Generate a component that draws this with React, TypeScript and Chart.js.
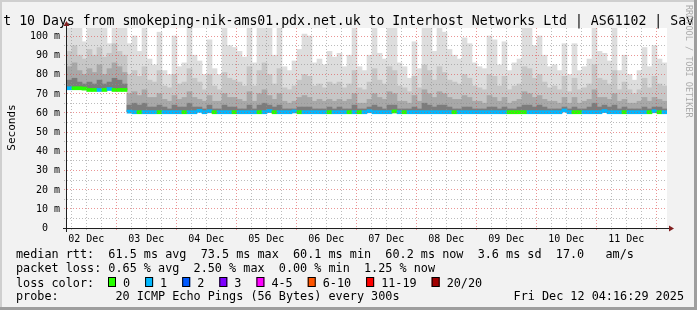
import React, { useEffect, useRef } from 'react';
import { Chart, registerables } from 'chart.js';

Chart.register(...registerables);

const TITLE = 'Last 10 Days from smokeping-nik-ams01.pdx.net.uk to Interhost Networks Ltd | AS61102 | Sav';
const Y_AXIS_TITLE = 'Seconds';
const WATERMARK = 'RRDTOOL / TOBI OETIKER';

const dayLabels = ['02 Dec', '03 Dec', '04 Dec', '05 Dec', '06 Dec', '07 Dec', '08 Dec', '09 Dec', '10 Dec', '11 Dec'];
const yTicks = [0, 10, 20, 30, 40, 50, 60, 70, 80, 90, 100];
const yTickLabels = ['0  ', '10 m', '20 m', '30 m', '40 m', '50 m', '60 m', '70 m', '80 m', '90 m', '100 m'];

const startHourOfDay = 4 + 16 / 60 + 29 / 3600; // graph starts Dec 2 04:16:29
const spanHours = 240;
const columnHours = 2;
const yMax = 104.17;

const legendRtt = 'median rtt:  61.5 ms avg  73.5 ms max  60.1 ms min  60.2 ms now  3.6 ms sd  17.0   am/s';
const legendLoss = 'packet loss: 0.65 % avg  2.50 % max  0.00 % min  1.25 % now';
const legendLossColorTitle = 'loss color:';
const lossLegendLabels = ['0', '1', '2', '3', '4-5', '6-10', '11-19', '20/20'];
const lossColors = ['#26ff00', '#00b8ff', '#0059ff', '#7e00ff', '#ff00ff', '#ff5500', '#ff0000', '#a10000'];
const probeText = 'probe:        20 ICMP Echo Pings (56 Bytes) every 300s';
const dateText = 'Fri Dec 12 04:16:29 2025';

// median RTT per 2-hour column (ms)
const medianRtt = [
  72.8, 72.8, 72.8, 72.6, 71.9, 71.9, 71.9, 71.9, 72.4, 71.9, 71.9, 71.9,
  60.6, 60.3, 60.3, 60.3, 60.3, 60.3, 60.3, 60.3, 60.3, 60.3, 60.3, 60.3, 60.3, 60.3, 61.0, 60.3, 60.8, 60.3,
  60.3, 60.3, 60.3, 60.3, 60.3, 60.3, 60.3, 60.3, 60.3, 60.3, 60.9, 60.3, 60.3, 60.3, 60.3, 60.7, 60.3, 60.3, 60.3, 60.3,
  60.3, 60.3, 60.3, 60.3, 60.3, 60.3, 60.3, 60.3, 60.3, 60.3,
  60.8, 60.3, 60.3, 60.3, 60.3, 60.7, 60.3, 60.3, 60.3, 60.3, 60.3, 60.3, 60.3, 60.3, 60.3, 60.3, 60.3, 60.3, 60.3, 60.3,
  60.3, 60.3, 60.3, 60.3, 60.3, 60.3, 60.3, 60.3, 60.3, 60.3,
  60.3, 60.3, 60.3, 60.3, 60.3, 60.3, 60.3, 60.3, 60.3, 61.2, 60.3, 60.3, 60.3, 60.3, 60.3, 60.3, 60.3, 60.9, 60.3, 60.3,
  60.3, 60.3, 60.3, 60.3, 60.3, 60.3, 60.3, 60.8, 60.3, 60.3,
];

// lost pings per column (index into lossColors)
const lossCount = [
  1, 0, 0, 0, 0, 0, 1, 0, 1, 0, 0, 0,
  1, 1, 0, 1, 1, 1, 0, 1, 1, 1, 1, 0, 1, 1, 1, 1, 1, 0,
  1, 1, 1, 0, 1, 1, 1, 1, 0, 1, 1, 0, 1, 1, 1, 1, 0, 1, 1, 1, 1, 1, 0, 1, 1, 1, 0, 1, 0, 1,
  1, 1, 1, 1, 1, 0, 1, 0, 1, 1, 1, 1, 1, 1, 1, 1, 1, 0, 1, 1, 1, 1, 1, 1, 1, 1, 1, 1, 0, 0,
  0, 0, 1, 1, 1, 1, 1, 1, 1, 1, 1, 0, 0, 1, 1, 1, 1, 1, 1, 1, 1, 0, 1, 1, 1, 1, 0, 1, 0, 1,
];

// smoke: highest ping per column (lightest band)
const smokeMax = [
  104, 104, 104, 97, 104, 104, 104, 104, 96, 104, 104, 104,
  96, 100, 92, 104, 88, 85, 102, 82, 80, 100, 84, 86, 104, 90, 87, 80, 98, 83,
  80, 104, 95, 94, 92, 89, 104, 86, 104, 104, 104, 90, 104, 84, 82, 87, 93, 101, 100, 86,
  88, 85, 92, 89, 91, 84, 90, 104, 84, 82,
  90, 104, 91, 88, 104, 104, 86, 84, 78, 97, 83, 104, 104, 92, 104, 102, 93, 90, 88, 99,
  96, 86, 84, 83, 100, 98, 85, 97, 82, 86,
  88, 104, 104, 95, 100, 90, 84, 85, 82, 96, 80, 96, 82, 84, 88, 104, 92, 91, 87, 104,
  82, 90, 80, 77, 82, 94, 84, 95, 88, 86,
];
// smoke: upper-middle band
const smokeUpper = [
  92, 95, 90, 88, 93, 90, 94, 89, 91, 96, 92, 90,
  80, 82, 79, 84, 77, 76, 82, 74, 73, 80, 75, 76, 83, 78, 76, 72, 80, 74,
  72, 81, 78, 77, 76, 74, 84, 74, 82, 86, 80, 75, 83, 73, 72, 74, 77, 80, 79, 74,
  75, 73, 76, 75, 76, 73, 75, 82, 73, 72,
  76, 83, 77, 75, 84, 82, 74, 73, 71, 79, 73, 85, 82, 77, 84, 81, 77, 76, 75, 80,
  78, 74, 73, 72, 80, 79, 74, 79, 72, 74,
  75, 84, 83, 78, 80, 76, 73, 74, 72, 79, 71, 78, 72, 73, 75, 85, 78, 77, 75, 82,
  72, 76, 72, 70, 72, 78, 73, 79, 75, 74,
];
// smoke: middle band
const smokeMid = [
  84, 86, 82, 80, 83, 81, 85, 80, 83, 86, 84, 81,
  70, 71, 69, 72, 68, 68, 70, 67, 66, 69, 67, 68, 71, 68, 67, 66, 69, 66,
  66, 70, 68, 68, 67, 66, 71, 66, 70, 72, 69, 67, 70, 66, 65, 66, 68, 69, 68, 66,
  67, 66, 67, 66, 67, 66, 67, 70, 65, 65,
  67, 70, 68, 67, 71, 70, 66, 66, 65, 69, 66, 72, 70, 68, 71, 70, 68, 67, 67, 69,
  68, 66, 66, 65, 69, 68, 66, 68, 65, 66,
  67, 71, 70, 68, 69, 67, 66, 66, 65, 68, 65, 68, 65, 66, 67, 72, 68, 68, 67, 70,
  66, 67, 65, 65, 66, 68, 66, 68, 67, 66,
];
// smoke: dense band near the median
const smokeLow = [
  77, 78, 76, 75, 76, 75, 77, 75, 76, 78, 77, 75,
  64, 65, 64, 65, 63, 63, 64, 63, 62, 64, 63, 63, 65, 63, 63, 62, 64, 62,
  62, 64, 63, 63, 62, 62, 64, 62, 64, 65, 64, 63, 64, 62, 62, 62, 63, 63, 63, 62,
  62, 62, 63, 62, 63, 62, 62, 64, 62, 62,
  63, 64, 63, 62, 64, 64, 62, 62, 62, 63, 62, 65, 64, 63, 64, 64, 63, 62, 62, 63,
  63, 62, 62, 62, 63, 63, 62, 63, 62, 62,
  63, 64, 64, 63, 64, 63, 62, 62, 62, 63, 62, 63, 62, 62, 63, 65, 63, 64, 63, 64,
  62, 63, 62, 62, 62, 63, 62, 63, 63, 62,
];

const MONO = "'DejaVu Sans Mono', monospace";

const rrdPlugin = {
  id: 'rrdlook',
  beforeDraw(chart: any) {
    const { ctx, chartArea: a, width, height } = chart;
    ctx.save();
    ctx.fillStyle = '#f2f2f2';
    ctx.fillRect(0, 0, width, height);
    ctx.fillStyle = '#ffffff';
    ctx.fillRect(a.left, a.top, a.right - a.left, a.bottom - a.top);
    ctx.restore();
  },
  afterDatasetsDraw(chart: any) {
    const { ctx, chartArea: a, width, height } = chart;
    const xs = chart.scales.x;
    const ys = chart.scales.y;
    ctx.save();
    ctx.lineWidth = 1;

    // horizontal grid
    ctx.setLineDash([1, 2]);
    for (let v = 5; v <= yMax; v += 5) {
      const py = Math.floor(ys.getPixelForValue(v)) + 0.5;
      ctx.strokeStyle = v % 10 === 0 ? 'rgba(222,79,79,0.6)' : 'rgba(143,143,143,0.6)';
      ctx.beginPath();
      ctx.moveTo(a.left - 3, py);
      ctx.lineTo(a.right, py);
      ctx.stroke();
    }
    // vertical grid every 6h, major at midnight
    const first = 6 - (startHourOfDay % 6);
    for (let h = first; h < spanHours; h += 6) {
      const hod = Math.round((startHourOfDay + h) % 24);
      const px = Math.floor(xs.getPixelForValue(h)) + 0.5;
      ctx.strokeStyle = hod % 24 === 0 ? 'rgba(222,79,79,0.6)' : 'rgba(143,143,143,0.6)';
      ctx.beginPath();
      ctx.moveTo(px, a.top);
      ctx.lineTo(px, a.bottom + 3);
      ctx.stroke();
    }
    ctx.setLineDash([]);

    // axes
    ctx.strokeStyle = '#1f1f1f';
    const axisY = Math.floor(ys.getPixelForValue(0)) + 0.5;
    ctx.beginPath();
    ctx.moveTo(a.left - 4, axisY);
    ctx.lineTo(a.right + 4, axisY);
    ctx.stroke();
    ctx.beginPath();
    ctx.moveTo(a.left - 0.5, a.bottom + 4);
    ctx.lineTo(a.left - 0.5, a.top - 3);
    ctx.stroke();
    // arrows
    ctx.fillStyle = '#801f1f';
    ctx.beginPath();
    ctx.moveTo(a.right + 7, axisY);
    ctx.lineTo(a.right + 2, axisY - 3);
    ctx.lineTo(a.right + 2, axisY + 3);
    ctx.closePath();
    ctx.fill();
    ctx.beginPath();
    ctx.moveTo(a.left - 0.5, a.top - 7);
    ctx.lineTo(a.left - 3.5, a.top - 2);
    ctx.lineTo(a.left + 2.5, a.top - 2);
    ctx.closePath();
    ctx.fill();

    // tick labels
    ctx.fillStyle = '#000000';
    ctx.font = `10px ${MONO}`;
    ctx.textAlign = 'right';
    ctx.textBaseline = 'middle';
    yTicks.forEach((v, i) => {
      ctx.fillText(yTickLabels[i], 60, ys.getPixelForValue(v) + 0.5);
    });
    ctx.textAlign = 'center';
    ctx.textBaseline = 'alphabetic';
    dayLabels.forEach((lab, i) => {
      const h = 12 - startHourOfDay + 24 * i;
      ctx.fillText(lab, xs.getPixelForValue(h), 242);
    });

    // title
    ctx.font = `13.2px ${MONO}`;
    ctx.textAlign = 'left';
    const cw = ctx.measureText('M').width;
    ctx.fillText(TITLE, 3.3 - 3 * cw, 24.5);

    // y axis title
    ctx.save();
    ctx.font = `11px ${MONO}`;
    ctx.translate(15, 127.5);
    ctx.rotate(-Math.PI / 2);
    ctx.textAlign = 'center';
    ctx.fillText(Y_AXIS_TITLE, 0, 0);
    ctx.restore();

    // watermark
    ctx.save();
    ctx.font = `8.5px ${MONO}`;
    ctx.fillStyle = '#ababab';
    ctx.translate(688.5, 5);
    ctx.rotate(Math.PI / 2);
    ctx.textAlign = 'left';
    ctx.textBaseline = 'middle';
    ctx.fillText(WATERMARK, 0, 0);
    ctx.restore();

    // legend
    ctx.font = `11.8px ${MONO}`;
    ctx.textAlign = 'left';
    ctx.fillStyle = '#000000';
    ctx.fillText(legendRtt, 16, 258);
    ctx.fillText(legendLoss, 16, 272);
    ctx.fillText(legendLossColorTitle, 16, 286.5);
    ctx.fillText(probeText, 16, 300);
    ctx.textAlign = 'right';
    ctx.fillText(dateText, 684, 300);
    ctx.textAlign = 'left';
    const lw = ctx.measureText('0').width;
    let bx = 108;
    lossLegendLabels.forEach((lab, i) => {
      ctx.fillStyle = lossColors[i];
      ctx.fillRect(bx, 277, 8, 10);
      ctx.strokeStyle = '#000000';
      ctx.strokeRect(bx + 0.5, 277.5, 7, 9);
      ctx.fillStyle = '#000000';
      ctx.fillText(lab, bx + 15, 286.5);
      bx += 30 + lw * lab.length;
    });

    // frame shading
    ctx.fillStyle = '#cfcfcf';
    ctx.fillRect(0, 0, width, 2);
    ctx.fillRect(0, 0, 2, height);
    ctx.fillStyle = '#9e9e9e';
    ctx.fillRect(0, height - 3, width, 3);
    ctx.fillRect(width - 3, 0, 3, height);
    ctx.restore();
  },
};

function bandData(tops: number[]) {
  return tops.map((t, i) => ({ x: (i + 0.5) * columnHours, y: [medianRtt[i], t] }));
}

export default function App() {
  const ref = useRef<HTMLCanvasElement>(null);
  useEffect(() => {
    if (!ref.current) return;
    const chart = new Chart(ref.current, {
      type: 'bar',
      data: {
        datasets: [
          {
            label: 'median',
            data: medianRtt.map((m, i) => ({ x: (i + 0.5) * columnHours, y: [m - 0.8, m + 0.8] })),
            backgroundColor: lossCount.map((l) => lossColors[l]),
            order: 0,
            grouped: false,
          } as any,
          { label: 'low', data: bandData(smokeLow), backgroundColor: '#7c7c7c', order: 1, grouped: false } as any,
          { label: 'mid', data: bandData(smokeMid), backgroundColor: '#a8a8a8', order: 2, grouped: false } as any,
          { label: 'upper', data: bandData(smokeUpper), backgroundColor: '#c6c6c6', order: 3, grouped: false } as any,
          { label: 'max', data: bandData(smokeMax), backgroundColor: '#dddddd', order: 4, grouped: false } as any,
        ],
      },
      options: {
        responsive: false,
        animation: false,
        devicePixelRatio: 1,
        layout: { padding: { left: 67, top: 28, right: 30, bottom: 82 } },
        plugins: { legend: { display: false }, tooltip: { enabled: false } },
        datasets: { bar: { barPercentage: 1, categoryPercentage: 1, borderWidth: 0 } } as any,
        scales: {
          x: { type: 'linear', min: 0, max: spanHours, display: false, offset: false },
          y: { min: 0, max: yMax, display: false },
        },
      },
      plugins: [rrdPlugin],
    } as any);
    return () => chart.destroy();
  }, []);
  return (
    <div style={{ position: 'fixed', left: 0, top: 0, width: 697, height: 310 }}>
      <canvas ref={ref} width={697} height={310} style={{ display: 'block' }} />
    </div>
  );
}
